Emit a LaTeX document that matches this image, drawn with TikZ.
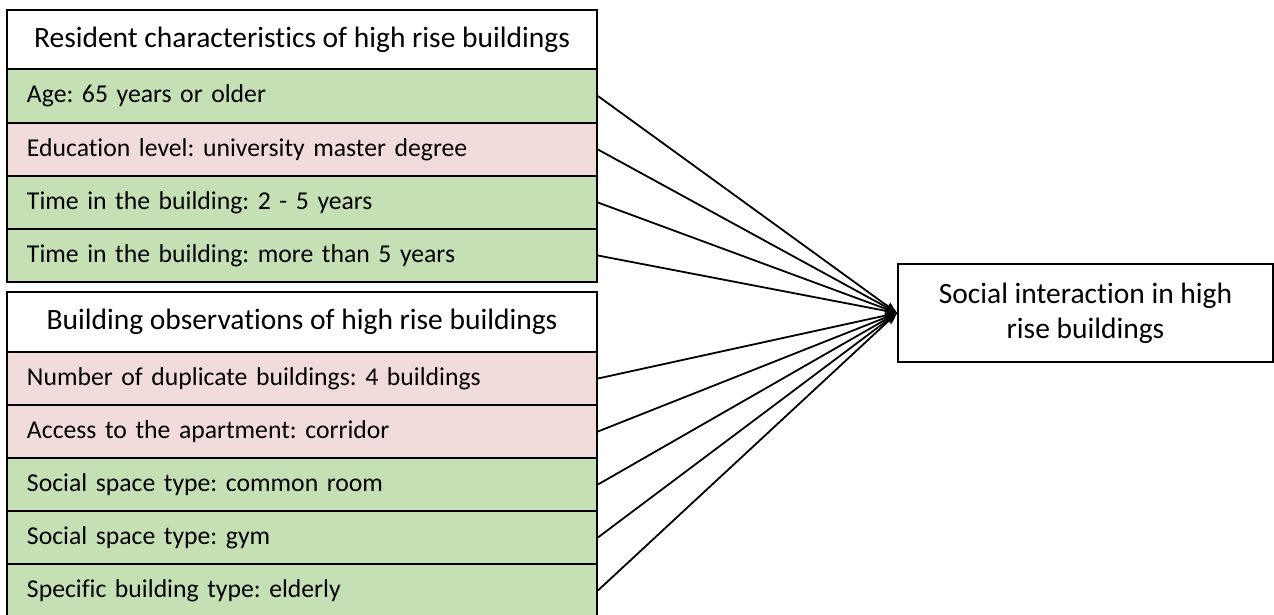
\documentclass[tikz,border=0pt]{standalone}
\usepackage{fontspec}
\setmainfont{Carlito}[Ligatures=NoCommon]
\usetikzlibrary{arrows.meta}
\definecolor{rowgreen}{HTML}{C5E0B4}
\definecolor{rowpink}{HTML}{F2DCDB}
\frenchspacing

\begin{document}
\begin{tikzpicture}[x=1pt, y=-1pt, every node/.style={draw, rectangle, line width=1.8pt, font=\fontsize{29.5}{35}\selectfont}]
\useasboundingbox (0,0) rectangle (1274,614);
\tikzset{head/.style={minimum width=590pt, minimum height=59pt, fill=white, align=center}}
\tikzset{row/.style={minimum width=590pt, minimum height=53pt, text width=550pt, inner xsep=20pt, align=left, font=\fontsize{25.7}{31}\selectfont}}
\node[head] (rc) at (302,39.5) {Resident characteristics of high rise buildings};
\node[row, fill=rowgreen] (r1) at (302,96) {Age: 65 years or older};
\node[row, fill=rowpink] (r2) at (302,149.5) {Education level: university master degree};
\node[row, fill=rowgreen] (r3) at (302,202.5) {Time in the building: 2 - 5 years};
\node[row, fill=rowgreen] (r4) at (302,255.5) {Time in the building: more than 5 years};

\node[head, minimum height=60pt] (bo) at (302,322) {Building observations of high rise buildings};
\node[row, fill=rowpink] (b1) at (302,378.5) {Number of duplicate buildings: 4 buildings};
\node[row, fill=rowpink] (b2) at (302,431.5) {Access to the apartment: corridor};
\node[row, fill=rowgreen] (b3) at (302,484.5) {Social space type: common room};
\node[row, fill=rowgreen] (b4) at (302,537.5) {Social space type: gym};
\node[row, fill=rowgreen] (b5) at (302,590.5) {Specific building type: elderly};

\node[minimum width=375pt, minimum height=98pt, align=center] (si) at (1085.5,313) {Social interaction in high\\rise buildings};

\tikzset{every node/.style={}};
\tikzset{mystyle/.style={-{Stealth[length=12pt,width=9pt]}, line width=1.8pt}};
\path (r1.east) edge [mystyle] (si.west);
\path (r2.east) edge [mystyle] (si.west);
\path (r3.east) edge [mystyle] (si.west);
\path (r4.east) edge [mystyle] (si.west);
\path (b1.east) edge [mystyle] (si.west);
\path (b2.east) edge [mystyle] (si.west);
\path (b3.east) edge [mystyle] (si.west);
\path (b4.east) edge [mystyle] (si.west);
\path (b5.east) edge [mystyle] (si.west);
\end{tikzpicture}
\end{document}
